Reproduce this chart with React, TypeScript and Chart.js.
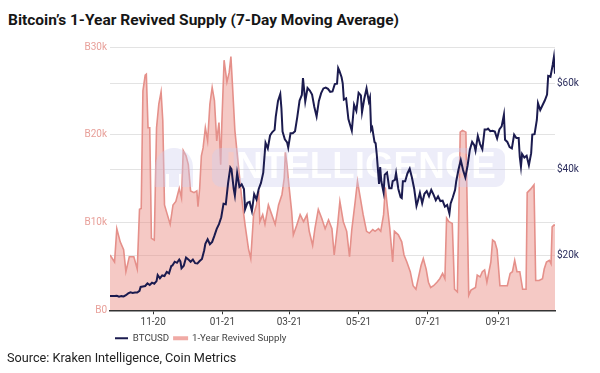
import React, { useEffect, useRef } from "react";
import { Chart, registerables } from "chart.js";

Chart.register(...registerables);

// Day index 0 = 2020-09-24
const tickDays = [38, 99, 158, 219, 280, 342];
const tickLabels = ["11-20", "01-21", "03-21", "05-21", "07-21", "09-21"];
const leftTicks = [0, 10000, 20000, 30000];
const rightTicks = [20000, 40000, 60000];

const btcDays = [
  0, 2, 4, 6, 8, 10, 12, 14, 16, 18, 20, 22, 24, 26, 27, 29, 31, 33, 35, 37, 39, 41, 42, 44, 46, 48, 50, 52, 54, 55, 57, 59,
  61, 62, 63, 65, 67, 69, 71, 73, 75, 77, 79, 81, 83, 84, 86, 88, 90, 92, 94, 96, 98, 100, 102, 104, 106, 107, 109, 110,
  112, 114, 116, 118, 119, 121, 123, 125, 127, 129, 131, 133, 135, 137, 139, 141, 143, 145, 146, 148, 150, 151, 152, 154,
  156, 157, 159, 161, 163, 165, 167, 169, 170, 172, 174, 176, 178, 180, 182, 184, 186, 188, 190, 192, 194, 196, 198, 200,
  201, 202, 204, 205, 206, 208, 210, 213, 215, 217, 219, 221, 222, 224, 226, 228, 229, 230, 231, 233, 234, 235, 237, 238,
  239, 241, 242, 244, 246, 248, 249, 251, 252, 254, 256, 257, 258, 260, 262, 264, 266, 268, 270, 271, 273, 275, 277, 279,
  281, 283, 285, 287, 289, 291, 293, 295, 297, 299, 300, 302, 304, 305, 307, 309, 311, 313, 315, 317, 319, 321, 322, 324,
  326, 328, 330, 332, 333, 335, 337, 339, 341, 343, 345, 347, 348, 350, 352, 354, 356, 358, 360, 361, 362, 363, 365, 367,
  369, 371, 372, 374, 376, 377, 379, 381, 383, 385, 386, 388, 390, 391, 392,
];
const btcUsd = [
  10740, 10730, 10700, 10780, 10550, 10680, 10600, 10900, 11300, 11550, 11420, 11500, 11500, 11900, 12820, 12930, 13030,
  13650, 13270, 13800, 13550, 14150, 15590, 14830, 15480, 15330, 16300, 15960, 17650, 17780, 18660, 18400, 19160, 18720,
  17150, 17720, 19630, 19200, 18650, 19150, 18320, 18250, 18800, 19270, 21310, 22800, 23840, 22720, 23240, 24700, 26270,
  27360, 28950, 32100, 31970, 36800, 40500, 40100, 35500, 34000, 39200, 36000, 36600, 35500, 30800, 32300, 32500, 30400,
  34300, 33100, 35500, 36900, 39300, 46200, 44900, 47900, 48700, 49200, 52200, 55900, 57500, 54200, 48800, 47000, 46300,
  45100, 48400, 48400, 48900, 52200, 56000, 57300, 61200, 55800, 58900, 58300, 57400, 54500, 52300, 55900, 57700, 58800,
  59000, 58700, 58000, 58100, 59800, 59900, 63500, 62900, 61400, 60000, 56200, 56500, 51700, 49000, 55000, 53600, 57800,
  57200, 53300, 56400, 58800, 55800, 56700, 49200, 49700, 46400, 46100, 43500, 36700, 40600, 37300, 34700, 38800, 39300,
  35700, 35700, 37300, 37600, 39200, 35500, 33600, 33400, 37300, 37300, 39100, 40200, 38100, 35500, 31600, 32500, 34600,
  32200, 34400, 35000, 33800, 35300, 34200, 32900, 33800, 32700, 32800, 31400, 31800, 29800, 32100, 33600, 35300, 37300,
  40000, 42200, 39900, 38200, 40900, 44600, 46400, 45600, 44400, 47800, 45900, 44700, 49300, 49300, 49500, 48900, 49000,
  48800, 47200, 49300, 50000, 52700, 46900, 46400, 45200, 44900, 48100, 47300, 47300, 42900, 40700, 43600, 42800, 43200,
  41000, 43800, 48100, 48200, 51500, 55400, 53800, 54900, 56000, 57400, 61700, 61500, 64300, 66000, 62200,
];

const rsDays = [
  0, 4, 6, 9, 12, 14, 17, 21, 24, 26, 27.5, 29, 31, 32, 33.5, 35, 36.5, 39, 41, 43, 45, 46.5, 48, 50.5, 53, 55.5, 58, 61,
  63, 64.5, 67, 69, 71, 74, 76.5, 77.5, 79, 80.5, 82, 84, 86, 88, 90, 92, 94, 96, 97.5, 98.5, 100.5, 103, 105, 106.5, 108,
  110, 113, 116, 119, 122, 124, 126.5, 129, 131, 132, 134.5, 136.5, 139.5, 142.5, 145.5, 148.5, 151.5, 153.5, 154.5, 156,
  157, 160, 161.5, 164.5, 167.5, 170.5, 173.5, 175.5, 178.5, 180.5, 183.5, 186.5, 189.5, 192.5, 195.5, 197.5, 200.5,
  202.5, 205.5, 208.5, 211, 213, 216, 218, 220.5, 223, 226, 228.5, 231.5, 233.5, 236.5, 238.5, 241, 242.5, 244.5, 246.5,
  249, 250.5, 254, 257, 259, 261.5, 264.5, 267, 269.5, 271.5, 274, 276, 278.5, 280.5, 282.5, 285, 288, 290.5, 293, 295,
  296.5, 298.5, 301.5, 303.5, 306, 308.5, 310.5, 313.5, 316, 318, 322, 323.5, 326, 328, 330, 332, 335.5, 337, 339, 341,
  343.5, 346.5, 350, 352.5, 354.5, 356.5, 358.5, 361, 363.5, 366.5, 367.5, 370.5, 373.5, 375, 378, 381, 382.5, 384.5, 387,
  388.5, 389.5, 391, 392,
];
const rsSupply = [
  6300, 5500, 9300, 7800, 6900, 4400, 6100, 6100, 4700, 11500, 11600, 25000, 26800, 26900, 20800, 20800, 8200, 8000, 20800,
  23500, 24900, 21600, 12000, 10900, 9800, 12000, 12400, 13900, 12800, 18200, 17600, 16600, 13600, 13400, 13600, 11800,
  13900, 17600, 18500, 20800, 19300, 23500, 25400, 23900, 19300, 21400, 16600, 21200, 28500, 26000, 27100, 28900, 25400,
  20500, 16600, 12800, 9700, 7000, 5900, 10900, 12000, 13600, 10100, 10900, 9800, 12000, 10900, 9800, 12000, 13200, 15100,
  18000, 16500, 15000, 11300, 8600, 9700, 10900, 10100, 10900, 9000, 7400, 9300, 11500, 10500, 9300, 10300, 9300, 6300,
  9700, 12400, 10100, 9000, 6100, 9200, 12400, 14700, 12800, 10900, 9000, 8800, 9200, 9000, 9300, 9000, 10900, 14000,
  11600, 9300, 5500, 9000, 8600, 7800, 6300, 5500, 4400, 2800, 2400, 3600, 5100, 5900, 4700, 3200, 2600, 2800, 3200, 3600,
  4200, 3600, 10500, 10100, 9900, 2400, 2100, 20300, 20500, 20300, 1700, 2300, 2600, 4000, 3800, 4400, 4600, 3200, 5500,
  8000, 7800, 6900, 2800, 2800, 2800, 4200, 4400, 5700, 4400, 4400, 2400, 2400, 13400, 13800, 14300, 3400, 3400, 3600,
  4700, 5500, 5700, 5300, 9500, 9700, 9700,
];

const NAVY = "#1b1b4f";
const PINK_LINE = "#e5908a";
const PINK_FILL = "rgba(234,140,132,0.47)";
const FONT = "Roboto, 'Liberation Sans', sans-serif";

export default function App() {
  const ref = useRef<HTMLCanvasElement>(null);

  useEffect(() => {
    const canvas = ref.current;
    if (!canvas) return;

    const watermark = {
      id: "watermark",
      afterDatasetDraw(chart: any, args: any) {
        if (args.index !== 1) return;
        const ctx = chart.ctx as CanvasRenderingContext2D;
        const off = document.createElement("canvas");
        off.width = chart.width;
        off.height = chart.height;
        const o = off.getContext("2d") as CanvasRenderingContext2D;
        o.fillStyle = "rgba(205,205,238,0.36)";
        // logo dome
        o.beginPath();
        o.arc(174, 167, 19, Math.PI, 0);
        o.lineTo(193, 187);
        o.lineTo(155, 187);
        o.closePath();
        o.fill();
        // band
        o.beginPath();
        (o as any).roundRect(212, 148, 293, 39, 9);
        o.fill();
        o.globalCompositeOperation = "destination-out";
        o.fillStyle = "#000";
        o.fillRect(166, 174, 3, 13);
        o.fillRect(179, 174, 3, 13);
        let size = 34;
        o.font = `bold ${size}px 'Liberation Sans', sans-serif`;
        const w = o.measureText("INTELLIGENCE").width;
        size = (size * 270) / w;
        o.font = `bold ${size}px 'Liberation Sans', sans-serif`;
        o.textBaseline = "middle";
        o.textAlign = "left";
        o.fillText("INTELLIGENCE", 226, 168);
        ctx.save();
        ctx.drawImage(off, 0, 0);
        ctx.restore();
      },
    };

    const chart = new Chart(canvas, {
      type: "line",
      data: {
        datasets: [
          {
            label: "BTCUSD",
            data: btcDays.map((d, i) => ({ x: d, y: btcUsd[i] })),
            yAxisID: "y1",
            borderColor: NAVY,
            backgroundColor: NAVY,
            borderWidth: 2,
            pointRadius: 0,
            tension: 0,
            fill: false,
          },
          {
            label: "1-Year Revived Supply",
            data: rsDays.map((d, i) => ({ x: d, y: rsSupply[i] })),
            yAxisID: "y",
            borderColor: PINK_LINE,
            backgroundColor: PINK_FILL,
            borderWidth: 1.6,
            pointRadius: 0,
            tension: 0,
            fill: "origin",
          },
        ],
      },
      options: {
        animation: false,
        responsive: false,
        maintainAspectRatio: false,
        layout: { padding: { top: 47, left: 0, right: 0, bottom: 20 } },
        scales: {
          x: {
            type: "linear",
            min: 0,
            max: 392,
            afterBuildTicks: (s: any) => {
              s.ticks = tickDays.map((v) => ({ value: v }));
            },
            afterFit: (s: any) => {
              s.height = 18;
            },
            ticks: {
              autoSkip: false,
              maxRotation: 0,
              padding: 2,
              color: "#444",
              font: { size: 10, family: FONT },
              callback: (v: any) => {
                const i = tickDays.indexOf(Number(v));
                return i >= 0 ? tickLabels[i] : "";
              },
            },
            grid: { drawOnChartArea: false, drawTicks: true, tickLength: 4, color: "#333", lineWidth: 1 },
            border: { display: true, color: "#333", width: 1.5 },
          },
          y: {
            position: "left",
            min: 0,
            max: 30000,
            afterBuildTicks: (s: any) => {
              s.ticks = leftTicks.map((v) => ({ value: v }));
            },
            afterFit: (s: any) => {
              s.width = 110;
            },
            ticks: {
              padding: 3,
              color: "#e8a09a",
              font: { size: 10, family: FONT },
              callback: (v: any) => (Number(v) === 0 ? "B0" : "B" + Number(v) / 1000 + "k"),
            },
            grid: { color: "#e3e3e3", drawTicks: false, lineWidth: 1 },
            border: { display: false },
          },
          y1: {
            position: "right",
            min: 7400,
            max: 68400,
            afterBuildTicks: (s: any) => {
              s.ticks = rightTicks.map((v) => ({ value: v }));
            },
            afterFit: (s: any) => {
              s.width = 45;
            },
            ticks: {
              padding: 2,
              color: "#2a2c5c",
              font: { size: 10, family: FONT },
              callback: (v: any) => "$" + Number(v) / 1000 + "k",
            },
            grid: { color: "#e3e3e3", drawTicks: false, lineWidth: 1 },
            border: { display: false },
          },
        },
        plugins: {
          tooltip: { enabled: false },
          legend: {
            position: "bottom",
            align: "start",
            fullSize: false,
            labels: {
              boxWidth: 13,
              boxHeight: 2,
              padding: 5,
              color: "#444",
              font: { size: 9.7, family: FONT },
              generateLabels: () => [
                {
                  text: "BTCUSD",
                  fillStyle: NAVY,
                  strokeStyle: NAVY,
                  lineWidth: 0,
                  hidden: false,
                  datasetIndex: 0,
                  fontColor: "#444",
                },
                {
                  text: "1-Year Revived Supply",
                  fillStyle: "#f0aaa5",
                  strokeStyle: "#f0aaa5",
                  lineWidth: 2,
                  hidden: false,
                  datasetIndex: 1,
                  fontColor: "#444",
                },
              ],
            },
          },
        },
      },
      plugins: [watermark],
    } as any);

    return () => chart.destroy();
  }, []);

  return (
    <div style={{ position: "fixed", left: 0, top: 0, width: 600, height: 373, background: "#fff", overflow: "hidden" }}>
      <div
        style={{
          position: "absolute",
          left: 8,
          top: 11,
          fontFamily: FONT,
          fontWeight: 700,
          fontSize: 15.5,
          lineHeight: "18px",
          color: "#161616",
          whiteSpace: "nowrap",
        }}
      >
        Bitcoin’s 1-Year Revived Supply (7-Day Moving Average)
      </div>
      <canvas ref={ref} width={600} height={373} style={{ position: "absolute", left: 0, top: 0, width: 600, height: 373 }} />
      <div
        style={{
          position: "absolute",
          left: 7,
          top: 350,
          fontFamily: FONT,
          fontSize: 12.7,
          lineHeight: "16px",
          color: "#222",
          whiteSpace: "nowrap",
        }}
      >
        Source: Kraken Intelligence, Coin Metrics
      </div>
    </div>
  );
}
